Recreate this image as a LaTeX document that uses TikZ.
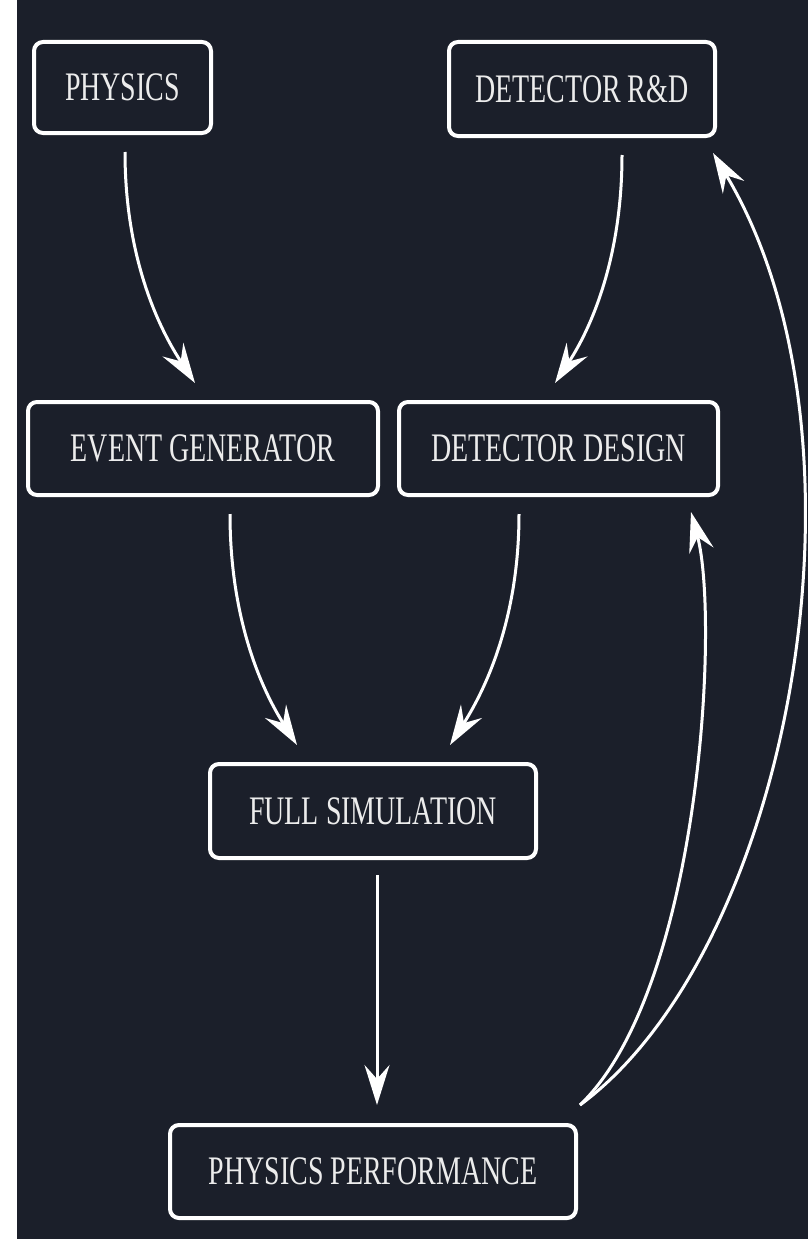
\documentclass[tikz,border=0pt]{standalone}
\usepackage{fontspec}
\setmainfont{Liberation Serif}
\usetikzlibrary{arrows.meta,calc}
\definecolor{bgdark}{RGB}{27,31,42}
\definecolor{txtc}{RGB}{236,236,236}
\newcommand\boxtext[1]{\scalebox{0.69}[1]{#1}}
\tikzset{
  flowbox/.style={draw=white, line width=4pt, rounded corners=9pt, fill=bgdark,
    text=txtc, inner sep=0pt, font=\fontsize{40.5}{42}\selectfont},
  flowarrow/.style={draw=white, line width=3pt,
    -{Stealth[length=40pt,width=25pt,inset=14pt]}}
}
\begin{document}
\begin{tikzpicture}[x=1pt,y=-1pt]
\useasboundingbox (0,0) rectangle (808,1239);
\fill[white] (0,0) rectangle (808,1239);
\fill[bgdark] (17,0) rectangle (808,1239);

\node[flowbox, minimum width=177pt, minimum height=91pt] (phys) at (122.5,87.5) {\boxtext{PHYSICS}};
\node[flowbox, minimum width=266pt, minimum height=94pt] (rnd) at (582,89) {\boxtext{DETECTOR R\&D}};
\node[flowbox, minimum width=350pt, minimum height=93pt] (evgen) at (203,448.5) {\boxtext{EVENT GENERATOR}};
\node[flowbox, minimum width=319pt, minimum height=93pt] (design) at (558.5,448.5) {\boxtext{DETECTOR DESIGN}};
\node[flowbox, minimum width=326pt, minimum height=94pt] (fullsim) at (373,811) {\boxtext{FULL SIMULATION}};
\node[flowbox, minimum width=406pt, minimum height=93pt] (perf) at (373,1171.5) {\boxtext{PHYSICS PERFORMANCE}};

% PHYSICS -> EVENT GENERATOR
\draw[flowarrow] ([xshift=2.5pt,yshift=-17pt]phys.south) .. controls (125,260) and (160,330) .. ([xshift=-8pt,yshift=17pt]evgen.north);
% DETECTOR R&D -> DETECTOR DESIGN
\draw[flowarrow] ([xshift=40pt,yshift=-17pt]rnd.south) .. controls (622,260) and (590,330) .. ([xshift=-3.5pt,yshift=17pt]design.north);
% EVENT GENERATOR -> FULL SIMULATION
\draw[flowarrow] ([xshift=27pt,yshift=-17pt]evgen.south) .. controls (230,620) and (262,690) .. ([xshift=-76pt,yshift=17pt]fullsim.north);
% DETECTOR DESIGN -> FULL SIMULATION
\draw[flowarrow] ([xshift=-39.5pt,yshift=-17pt]design.south) .. controls (519,620) and (485,690) .. ([xshift=77pt,yshift=17pt]fullsim.north);
% FULL SIMULATION -> PHYSICS PERFORMANCE
\draw[flowarrow] ([xshift=4pt,yshift=-15pt]fullsim.south) -- ([xshift=4pt,yshift=18pt]perf.north);
% PHYSICS PERFORMANCE -> DETECTOR DESIGN
\draw[flowarrow] ([xshift=2pt,yshift=18pt]perf.north east) .. controls (700,990) and (720,620) .. ([xshift=-29pt,yshift=-15pt]design.south east);
% PHYSICS PERFORMANCE -> DETECTOR R&D
\draw[flowarrow] ([xshift=2pt,yshift=18pt]perf.north east) .. controls (790,950) and (885,440) .. ([xshift=-4pt,yshift=-15pt]rnd.south east);
\end{tikzpicture}
\end{document}
